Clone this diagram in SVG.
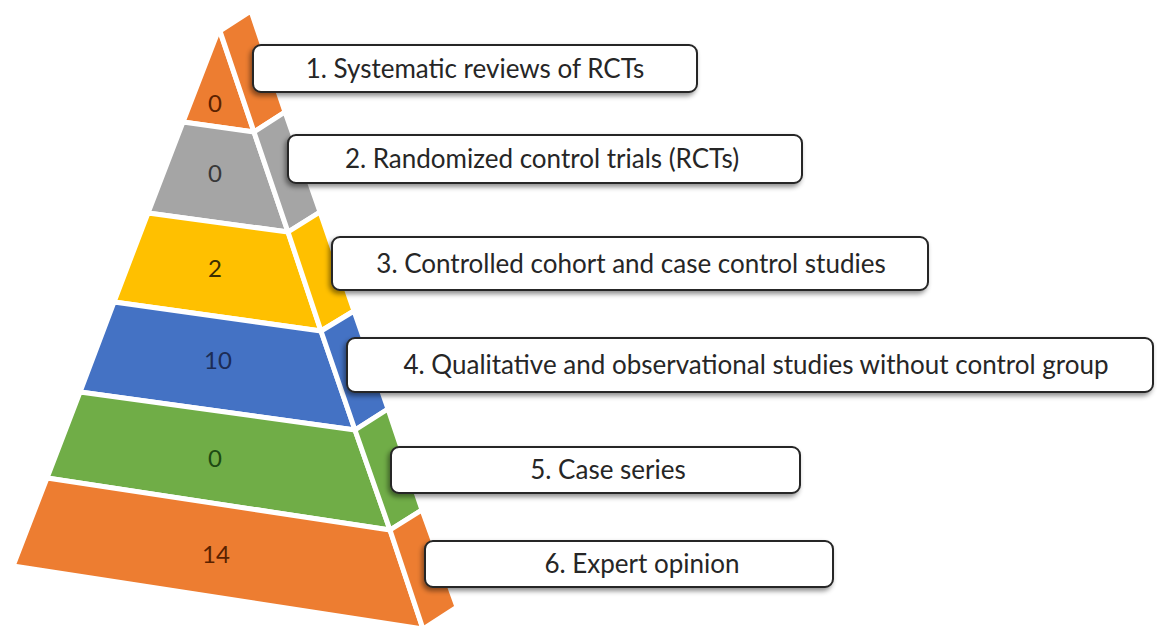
<svg xmlns="http://www.w3.org/2000/svg" width="1157" height="628" viewBox="0 0 1157 628">
<defs>
<filter id="sh" x="-10%" y="-30%" width="120%" height="170%">
<feDropShadow dx="-2" dy="3" stdDeviation="2.5" flood-color="#000" flood-opacity="0.45"/>
</filter>
<style>
.band{stroke:#fff;stroke-width:5;stroke-linejoin:round}
.o{fill:#ED7D31}.g{fill:#A5A5A5}.y{fill:#FFC000}.b{fill:#4472C4}.gr{fill:#70AD47}
.box{fill:#fff;stroke:#262626;stroke-width:2;filter:url(#sh)}
.lbl{font-family:Lato,"Liberation Sans",sans-serif;font-size:26px;fill:#262626;text-anchor:middle}
.num{font-family:Lato,"Liberation Sans",sans-serif;font-size:24px;text-anchor:middle}
</style>
</defs>
<rect width="1157" height="628" fill="#fff"/>
<g id="tier1">
<polygon class="band o" points="219,29 254,132 183,122"/>
<polygon class="band o" points="220,31 251,11 285,112 254,132"/>
<text class="num" x="215" y="112" fill="#5a2200">0</text>
<rect class="box" x="253" y="45" width="444" height="47" rx="8"/>
<text class="lbl" x="475" y="78">1. Systematic reviews of RCTs</text>
</g>
<g id="tier2">
<polygon class="band g" points="183,122 254,132 288,232 148,213"/>
<polygon class="band g" points="254,132 285,112 320,212 288,232"/>
<text class="num" x="215" y="182" fill="#383838">0</text>
<rect class="box" x="288" y="135" width="514" height="48" rx="8"/>
<text class="lbl" x="542" y="168">2. Randomized control trials (RCTs)</text>
</g>
<g id="tier3">
<polygon class="band y" points="148,213 288,232 321,331 114,302"/>
<polygon class="band y" points="288,232 320,212 354,311 321,331"/>
<text class="num" x="215" y="277" fill="#3d2e00">2</text>
<rect class="box" x="332" y="237" width="596" height="53" rx="8"/>
<text class="lbl" x="631" y="273">3. Controlled cohort and case control studies</text>
</g>
<g id="tier4">
<polygon class="band b" points="114,302 321,331 355,430 80,392"/>
<polygon class="band b" points="321,331 354,311 388,409 355,430"/>
<text class="num" x="218" y="369" fill="#1c2c55">10</text>
<rect class="box" x="347" y="338" width="806" height="54" rx="8"/>
<text class="lbl" x="756" y="374">4. Qualitative and observational studies without control group</text>
</g>
<g id="tier5">
<polygon class="band gr" points="80,392 355,430 390,530 47,478"/>
<polygon class="band gr" points="355,430 388,409 422,510 390,530"/>
<text class="num" x="215" y="467" fill="#1d4a12">0</text>
<rect class="box" x="391" y="447" width="409" height="46" rx="8"/>
<text class="lbl" x="608" y="479">5. Case series</text>
</g>
<g id="tier6">
<polygon class="band o" points="47,478 390,530 423,629 13,566"/>
<polygon class="band o" points="390,530 422,510 457,607 423,629"/>
<text class="num" x="216" y="563" fill="#5a2200">14</text>
<rect class="box" x="425" y="541" width="408" height="46" rx="8"/>
<text class="lbl" x="642" y="573">6. Expert opinion</text>
</g>
<g id="connectors"/>
</svg>
